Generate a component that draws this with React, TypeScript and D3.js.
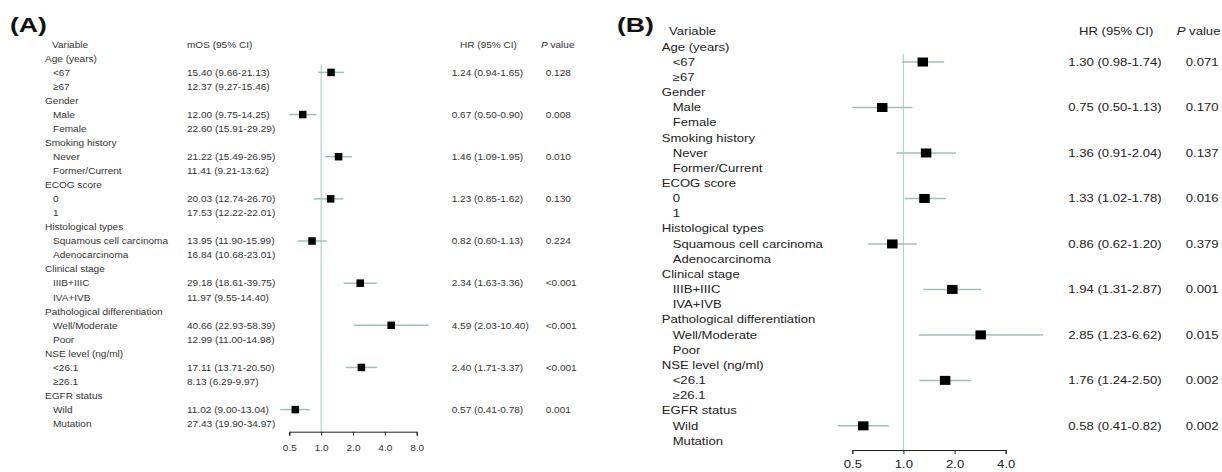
import React, { useEffect, useRef } from "react";
import * as d3 from "d3";

const categories = [
  "Age (years)",
  "Gender",
  "Smoking history",
  "ECOG score",
  "Histological types",
  "Clinical stage",
  "Pathological differentiation",
  "NSE level (ng/ml)",
  "EGFR status",
];
const subgroups = [
  ["<67", "≥67"],
  ["Male", "Female"],
  ["Never", "Former/Current"],
  ["0", "1"],
  ["Squamous cell carcinoma", "Adenocarcinoma"],
  ["IIIB+IIIC", "IVA+IVB"],
  ["Well/Moderate", "Poor"],
  ["<26.1", "≥26.1"],
  ["Wild", "Mutation"],
];
const mosA = [
  "15.40 (9.66-21.13)", "12.37 (9.27-15.46)",
  "12.00 (9.75-14.25)", "22.60 (15.91-29.29)",
  "21.22 (15.49-26.95)", "11.41 (9.21-13.62)",
  "20.03 (12.74-26.70)", "17.53 (12.22-22.01)",
  "13.95 (11.90-15.99)", "16.84 (10.68-23.01)",
  "29.18 (18.61-39.75)", "11.97 (9.55-14.40)",
  "40.66 (22.93-58.39)", "12.99 (11.00-14.98)",
  "17.11 (13.71-20.50)", "8.13 (6.29-9.97)",
  "11.02 (9.00-13.04)", "27.43 (19.90-34.97)",
];
const hrA = [1.24, 0.67, 1.46, 1.23, 0.82, 2.34, 4.59, 2.4, 0.57];
const loA = [0.94, 0.5, 1.09, 0.85, 0.6, 1.63, 2.03, 1.71, 0.41];
const hiA = [1.65, 0.9, 1.95, 1.62, 1.13, 3.36, 10.4, 3.37, 0.78];
const pA = ["0.128", "0.008", "0.010", "0.130", "0.224", "<0.001", "<0.001", "<0.001", "0.001"];

const hrB = [1.3, 0.75, 1.36, 1.33, 0.86, 1.94, 2.85, 1.76, 0.58];
const loB = [0.98, 0.5, 0.91, 1.02, 0.62, 1.31, 1.23, 1.24, 0.41];
const hiB = [1.74, 1.13, 2.04, 1.78, 1.2, 2.87, 6.62, 2.5, 0.82];
const pB = ["0.071", "0.170", "0.137", "0.016", "0.379", "0.001", "0.015", "0.002", "0.002"];

const ticksA = [0.5, 1, 2, 4, 8];
const ticksB = [0.5, 1, 2, 4];

const FONT = "'Liberation Sans', Arial, sans-serif";
const CI = "#9fbfbf";
const REF = "#b9cfcf";

type PanelCfg = {
  label: string;
  labelX: number;
  labelY: number;
  fs: number;
  sx: number;
  color: string;
  row0: number;
  rowH: number;
  catX: number;
  subX: number;
  varX: number;
  mos?: string[];
  mosX?: number;
  hrTextX: number;
  hrHeadX: number;
  pX: number;
  pHeadX: number;
  hr: number[];
  lo: number[];
  hi: number[];
  p: string[];
  domain: [number, number];
  range: [number, number];
  ticks: number[];
  axisY: number;
  tickLabelY: number;
  boxW: number;
  boxH: number;
};

const fmt = (v: number) => v.toFixed(2);

function T({ x, y, sx, fs, children, anchor = "start", weight = "normal", fill = "#333" }: any) {
  return (
    <text
      transform={`translate(${x},${y}) scale(${sx},1)`}
      dy="0.35em"
      fontSize={fs}
      fontFamily={FONT}
      textAnchor={anchor}
      fontWeight={weight}
      fill={fill}
    >
      {children}
    </text>
  );
}

function Panel({ c }: { c: PanelCfg }) {
  const axisRef = useRef<SVGGElement>(null);
  const x = d3.scaleLog().base(2).domain(c.domain).range(c.range);
  const rowY = (i: number) => c.row0 + c.rowH * i;

  useEffect(() => {
    if (!axisRef.current) return;
    const g = d3.select(axisRef.current);
    g.call(
      d3.axisBottom(x).tickValues(c.ticks).tickFormat(d3.format(".1f") as any).tickSizeOuter(0).tickSize(4)
    );
    g.select(".domain").attr("stroke", "#222").attr("stroke-width", 1);
    g.selectAll(".tick line").attr("stroke", "#222");
    g.selectAll(".tick text")
      .attr("font-family", FONT)
      .attr("font-size", c.fs)
      .attr("fill", c.color)
      .attr("y", c.tickLabelY)
      .attr("transform", `scale(${c.sx},1)`);
  });

  const rows: any[] = [];
  let r = 1;
  const markerRows: number[] = [];
  categories.forEach((cat, ci) => {
    rows.push(<T key={`c${ci}`} x={c.catX} y={rowY(r)} sx={c.sx} fs={c.fs} fill={c.color}>{cat}</T>);
    r++;
    subgroups[ci].forEach((s, si) => {
      rows.push(
        <T key={`s${ci}-${si}`} x={c.subX} y={rowY(r)} sx={c.sx} fs={c.fs} fill={c.color}>{s}</T>
      );
      if (c.mos) {
        rows.push(
          <T key={`m${ci}-${si}`} x={c.mosX} y={rowY(r)} sx={c.sx} fs={c.fs} fill={c.color}>{c.mos[ci * 2 + si]}</T>
        );
      }
      if (si === 0) markerRows.push(r);
      r++;
    });
  });

  const x1 = x(1);
  const firstY = rowY(markerRows[0]);

  return (
    <g>
      <T x={c.labelX} y={c.labelY} sx={1.33} fs={20} weight="bold" fill="#111">{c.label}</T>
      <T x={c.varX} y={rowY(0)} sx={c.sx} fs={c.fs} fill={c.color}>Variable</T>
      {c.mos && <T x={c.mosX} y={rowY(0)} sx={c.sx} fs={c.fs} fill={c.color}>mOS (95% CI)</T>}
      <T x={c.hrHeadX} y={rowY(0)} sx={c.sx} fs={c.fs} fill={c.color}>HR (95% CI)</T>
      <text
        transform={`translate(${c.pHeadX},${rowY(0)}) scale(${c.sx},1)`}
        dy="0.35em"
        fontSize={c.fs}
        fontFamily={FONT}
        fill={c.color}
      >
        <tspan fontStyle="italic">P</tspan> value
      </text>
      {rows}
      <line x1={x1} x2={x1} y1={firstY - c.rowH * 0.55} y2={c.axisY} stroke={REF} strokeWidth={1.2} />
      {markerRows.map((mr, i) => {
        const y = rowY(mr);
        return (
          <g key={`mk${i}`}>
            <line x1={x(c.lo[i])} x2={x(c.hi[i])} y1={y} y2={y} stroke={CI} strokeWidth={1.5} />
            <rect x={x(c.hr[i]) - c.boxW / 2} y={y - c.boxH / 2} width={c.boxW} height={c.boxH} fill="#000" />
            <T x={c.hrTextX} y={y} sx={c.sx} fs={c.fs} fill={c.color}>
              {`${fmt(c.hr[i])} (${fmt(c.lo[i])}-${fmt(c.hi[i])})`}
            </T>
            <T x={c.pX} y={y} sx={c.sx} fs={c.fs} fill={c.color}>{c.p[i]}</T>
          </g>
        );
      })}
      <g ref={axisRef} transform={`translate(0,${c.axisY})`} />
    </g>
  );
}

const cfgA: PanelCfg = {
  label: "(A)",
  labelX: 10,
  labelY: 25,
  fs: 9.5,
  sx: 1.06,
  color: "#333",
  row0: 44.3,
  rowH: 14.05,
  catX: 45,
  subX: 53,
  varX: 52,
  mos: mosA,
  mosX: 187,
  hrTextX: 451.7,
  hrHeadX: 460,
  pX: 545.7,
  pHeadX: 541,
  hr: hrA,
  lo: loA,
  hi: hiA,
  p: pA,
  domain: [0.5, 8],
  range: [289.3, 416.7],
  ticks: ticksA,
  axisY: 431.7,
  tickLabelY: 12.5,
  boxW: 7.5,
  boxH: 7.5,
};

const cfgB: PanelCfg = {
  label: "(B)",
  labelX: 617,
  labelY: 25,
  fs: 10.5,
  sx: 1.25,
  color: "#222",
  row0: 31.7,
  rowH: 15.16,
  catX: 661.7,
  subX: 672.7,
  varX: 669,
  hrTextX: 1068.3,
  hrHeadX: 1079,
  pX: 1185.7,
  pHeadX: 1176.7,
  hr: hrB,
  lo: loB,
  hi: hiB,
  p: pB,
  domain: [0.5, 4],
  range: [852.3, 1005.7],
  ticks: ticksB,
  axisY: 450,
  tickLabelY: 10.5,
  boxW: 10.5,
  boxH: 9,
};

export default function App() {
  return (
    <svg
      width={1222}
      height={472}
      style={{ position: "absolute", left: 0, top: 0, display: "block", background: "#fff" }}
    >
      <rect width={1222} height={472} fill="#fff" />
      <Panel c={cfgA} />
      <Panel c={cfgB} />
    </svg>
  );
}
